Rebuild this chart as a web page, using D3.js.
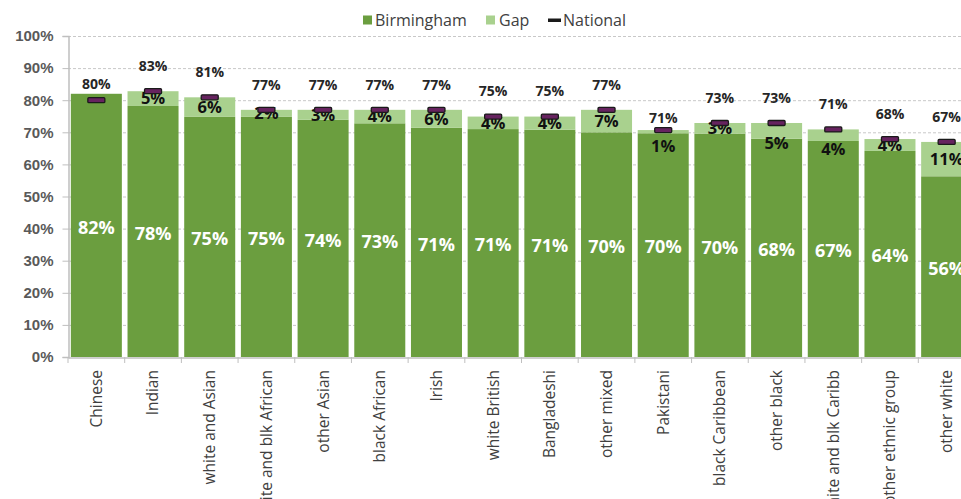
<!DOCTYPE html>
<html>
<head>
<meta charset="utf-8">
<script src="https://cdn.jsdelivr.net/npm/d3@7"></script>
<style>
  body { margin: 0; background: #fff; }
  svg { display: block; font-family: "Open Sans", sans-serif; }
</style>
</head>
<body>
<svg id="chart"></svg>
<script>
const groups = ["Chinese", "Indian", "white and Asian", "white and blk African", "other Asian",
  "black African", "Irish", "white British", "Bangladeshi", "other mixed", "Pakistani",
  "black Caribbean", "other black", "white and blk Caribb", "other ethnic group", "other white"];
const birmingham = [82.0, 78.2, 74.8, 74.8, 73.9, 72.8, 71.4, 71.0, 70.8, 70.0, 69.7, 69.6, 68.0, 67.3, 64.2, 56.3];
const gap = [0, 4.6, 6.1, 2.2, 3.1, 4.2, 5.6, 3.9, 4.1, 7.0, 1.0, 3.3, 4.9, 3.6, 3.7, 10.7];
const national = [80.0, 82.8, 80.9, 77.0, 77.0, 77.0, 77.0, 74.9, 74.9, 77.0, 70.7, 72.9, 72.9, 70.9, 67.9, 67.0];
const yTicks = [0, 10, 20, 30, 40, 50, 60, 70, 80, 90, 100];

// hand-placed label nudges, as in the original chart (px)
const nationalNudge = { "Chinese": 9, "Pakistani": 13 };
const gapNudge = { "Pakistani": 15, "other black": 12, "white and blk Caribb": 14 };

const width = 961, height = 499;
const dark = "#6b9e3f", light = "#a9d18e";

const svg = d3.select("#chart").attr("width", width).attr("height", height);

const x = d3.scaleBand().domain(groups).range([68, 975]).paddingInner(0.1).paddingOuter(0.05);
const y = d3.scaleLinear().domain([0, 100]).range([357, 36]);

// gridlines
svg.append("g")
  .selectAll("line")
  .data(yTicks.filter((d) => d > 0))
  .join("line")
  .attr("x1", 68).attr("x2", width)
  .attr("y1", (d) => y(d) + 0.5).attr("y2", (d) => y(d) + 0.5)
  .attr("stroke", "#c8c8c8")
  .attr("stroke-dasharray", "3,2");

// y axis
const yAxis = svg.append("g")
  .attr("transform", "translate(68.5,0)")
  .call(d3.axisLeft(y).tickValues(yTicks).tickFormat((d) => d + "%").tickSize(6).tickPadding(9));
yAxis.select(".domain").attr("stroke", "#bfbfbf").attr("stroke-width", 1.5);
yAxis.selectAll(".tick line").attr("stroke", "#bfbfbf");
yAxis.selectAll(".tick text")
  .attr("fill", "#595959")
  .style("font-size", "15px")
  .style("font-weight", "bold");

const rows = groups.map((g, i) => ({ g, b: birmingham[i], gap: gap[i], n: national[i] }));

// birmingham bars
svg.append("g")
  .selectAll("rect")
  .data(rows)
  .join("rect")
  .attr("x", (d) => x(d.g))
  .attr("width", x.bandwidth())
  .attr("y", (d) => y(d.b))
  .attr("height", (d) => y(0) - y(d.b))
  .attr("fill", dark);

// gap bars
svg.append("g")
  .selectAll("rect")
  .data(rows.filter((d) => d.gap > 0))
  .join("rect")
  .attr("x", (d) => x(d.g))
  .attr("width", x.bandwidth())
  .attr("y", (d) => y(d.b + d.gap))
  .attr("height", (d) => y(d.b) - y(d.b + d.gap))
  .attr("fill", light);

// x axis
const xAxis = svg.append("g")
  .attr("transform", "translate(0,357.5)")
  .call(d3.axisBottom(x).tickSize(0).tickFormat(""));
xAxis.select(".domain").attr("stroke", "#bfbfbf").attr("stroke-width", 1.5);
svg.append("g")
  .selectAll("line")
  .data(d3.range(groups.length + 1))
  .join("line")
  .attr("x1", (i) => 68 + i * x.step()).attr("x2", (i) => 68 + i * x.step())
  .attr("y1", 357).attr("y2", 363)
  .attr("stroke", "#bfbfbf");

svg.append("g")
  .selectAll("text")
  .data(groups)
  .join("text")
  .attr("transform", (d) => `translate(${x(d) + x.bandwidth() / 2},370) rotate(-90)`)
  .attr("text-anchor", "end")
  .attr("dy", "0.35em")
  .attr("fill", "#404040")
  .style("font-size", "15.5px")
  .text((d) => d);

// birmingham labels
svg.append("g")
  .selectAll("text")
  .data(rows)
  .join("text")
  .attr("x", (d) => x(d.g) + x.bandwidth() / 2)
  .attr("y", (d) => (y(d.b) + y(0)) / 2 + 2)
  .attr("text-anchor", "middle")
  .attr("dy", "0.35em")
  .attr("fill", "#fff")
  .style("font-size", "18px")
  .style("font-weight", "bold")
  .text((d) => Math.round(d.b) + "%");

// gap labels
svg.append("g")
  .selectAll("text")
  .data(rows.filter((d) => d.gap > 0))
  .join("text")
  .attr("x", (d) => x(d.g) + x.bandwidth() / 2)
  .attr("y", (d) => (y(d.b) + y(d.b + d.gap)) / 2 + (gapNudge[d.g] || 0))
  .attr("text-anchor", "middle")
  .attr("dy", "0.35em")
  .attr("fill", "#111")
  .style("font-size", "16.5px")
  .style("font-weight", "bold")
  .text((d) => Math.round(d.gap) + "%");

// national markers
svg.append("g")
  .selectAll("rect")
  .data(rows)
  .join("rect")
  .attr("x", (d) => x(d.g) + x.bandwidth() / 2 - 8.5)
  .attr("y", (d) => y(d.n) - 2.5)
  .attr("width", 17)
  .attr("height", 5)
  .attr("rx", 1)
  .attr("fill", "#66235f")
  .attr("stroke", "#1a1a1a")
  .attr("stroke-width", 1.3);

// national labels
svg.append("g")
  .selectAll("text")
  .data(rows)
  .join("text")
  .attr("x", (d) => x(d.g) + x.bandwidth() / 2)
  .attr("y", (d) => y(d.n) - 25 + (nationalNudge[d.g] || 0))
  .attr("text-anchor", "middle")
  .attr("dy", "0.35em")
  .attr("fill", "#262626")
  .style("font-size", "14px")
  .style("font-weight", "bold")
  .text((d) => Math.round(d.n) + "%");

// legend
const legend = svg.append("g").attr("transform", "translate(0,20)");
legend.append("rect").attr("x", 363).attr("y", -4.5).attr("width", 9).attr("height", 9).attr("fill", dark);
legend.append("text").attr("x", 375).attr("dy", "0.35em").text("Birmingham");
legend.append("rect").attr("x", 486).attr("y", -4.5).attr("width", 9).attr("height", 9).attr("fill", light);
legend.append("text").attr("x", 499).attr("dy", "0.35em").text("Gap");
legend.append("rect").attr("x", 548).attr("y", -1.5).attr("width", 13).attr("height", 3.5).attr("fill", "#1a1a1a");
legend.append("text").attr("x", 563).attr("dy", "0.35em").text("National");
legend.selectAll("text").attr("fill", "#404040").style("font-size", "16px");
</script>
</body>
</html>
